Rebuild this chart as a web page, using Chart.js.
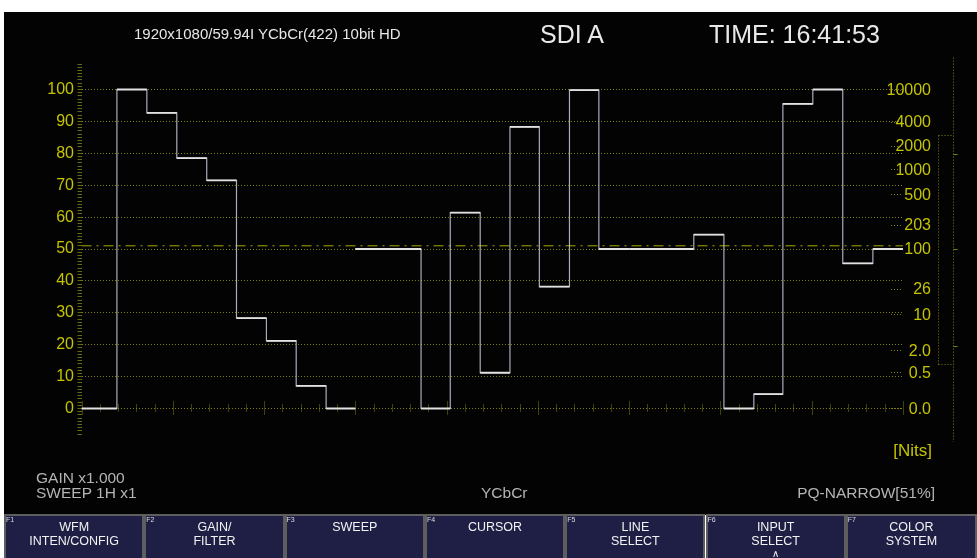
<!DOCTYPE html>
<html>
<head>
<meta charset="utf-8">
<title>WFM YCbCr</title>
<script src="https://cdn.jsdelivr.net/npm/chart.js@4.4.1/dist/chart.umd.min.js"></script>
<style>
  body { margin: 0; background: #fff; width: 977px; height: 558px; overflow: hidden; position: relative;
         font-family: "Liberation Sans", Arial, sans-serif; }
  #screen { position: absolute; left: 4px; top: 12px; right: 0; height: 503px; background: #030303; }
  #wrap { position: absolute; left: 0; top: 0; width: 977px; height: 515px; }
  .txt { position: absolute; white-space: nowrap; line-height: 1; }
  .head { color: #e8e8e8; }
  .stat { color: #b4b4b4; font-size: 15.5px; }
  .btn { position: absolute; top: 514px; height: 50px; box-sizing: border-box; border: 2px solid #5e5e5e;
         border-bottom: none; background: #1f1f46; color: #f2f2f2; text-align: center; font-size: 12.5px; }
  .btn .fk { position: absolute; left: 0; top: 0; font-size: 7px; line-height: 1; color: #ddd; }
  .btn .l1, .btn .l2, .btn .l3 { position: absolute; left: 0; right: 0; line-height: 1; }
  .btn .l1 { top: 5px; }
  .btn .l2 { top: 18.5px; }
  .btn .l3 { top: 33px; font-size: 10px; }
</style>
</head>
<body>
<div id="screen"></div>
<div id="wrap"><canvas id="wfm"></canvas></div>

<!-- top status line -->
<div class="txt head" style="left:134px; top:26px; font-size:15px;">1920x1080/59.94I YCbCr(422) 10bit HD</div>
<div class="txt head" style="left:540px; top:22px; font-size:25px;">SDI A</div>
<div class="txt head" style="left:709px; top:22px; font-size:25px;">TIME: 16:41:53</div>

<!-- bottom status -->
<div class="txt stat" style="left:36px; top:470px;">GAIN x1.000</div>
<div class="txt stat" style="left:36px; top:485px;">SWEEP 1H x1</div>
<div class="txt stat" style="left:481px; top:485px;">YCbCr</div>
<div class="txt stat" style="right:42px; top:485px;">PQ-NARROW[51%]</div>
<div class="txt" style="right:45px; top:442px; font-size:17px; color:#c4c400;">[Nits]</div>

<!-- function keys -->
<div class="btn" style="left:4px; width:140.3px;"><span class="fk">F1</span><span class="l1">WFM</span><span class="l2">INTEN/CONFIG</span></div>
<div class="btn" style="left:144.3px; width:140.3px;"><span class="fk">F2</span><span class="l1">GAIN/</span><span class="l2">FILTER</span></div>
<div class="btn" style="left:284.6px; width:140.3px;"><span class="fk">F3</span><span class="l1">SWEEP</span></div>
<div class="btn" style="left:424.9px; width:140.3px;"><span class="fk">F4</span><span class="l1">CURSOR</span></div>
<div class="btn" style="left:565.2px; width:140.3px;"><span class="fk">F5</span><span class="l1">LINE</span><span class="l2">SELECT</span></div>
<div class="btn" style="left:705.5px; width:140.3px;"><span class="fk">F6</span><span class="l1">INPUT</span><span class="l2">SELECT</span><span class="l3">&#8743;</span></div>
<div class="btn" style="left:845.8px; width:131.2px;"><span class="fk">F7</span><span class="l1">COLOR</span><span class="l2">SYSTEM</span></div>

<script>
// horizontal sweep, 0..45 graticule divisions (Y | Cb | Cr parade)
const SWEEP_MAX = 45;

// Y : colour bars luma
const Y_EDGES = [0, 1.94, 3.58, 5.22, 6.86, 8.49, 10.13, 11.76, 13.40, 15];
const Y_LEVELS = [0, 100, 92.7, 78.5, 71.5, 28.3, 21.2, 7.1, 0];

// Cb
const CB_EDGES = [15, 18.60, 20.20, 21.84, 23.47, 25.08, 26.73, 28.34, 30];
const CB_LEVELS = [50, 0, 61.4, 11.2, 88.3, 38.2, 99.8, 50];

// Cr
const CR_EDGES = [30, 33.54, 35.19, 36.83, 38.42, 40.06, 41.70, 43.35, 45];
const CR_LEVELS = [50, 54.5, 0, 4.5, 95.5, 100, 45.5, 50];

// PQ reference level (dash-dot)
const REF_LEVEL = 51;

// left scale (%) and right scale (nits)
const PCT_TICKS = [0, 10, 20, 30, 40, 50, 60, 70, 80, 90, 100];
const NITS_LABELS = ['10000', '4000', '2000', '1000', '500', '203', '100', '26', '10', '2.0', '0.5', '0.0'];
const NITS_LEVELS = [100, 89.9, 82.3, 75.0, 67.2, 57.5, 50.1, 37.6, 29.5, 18.3, 11.3, 0];

// range gauge at the far right
const GAUGE_SPAN = [-10.5, 110];
const GAUGE_BOX = [13.9, 85.7];
const GAUGE_MARKS = [19.6, 50, 79.8];

const YELLOW = '#c4c400';
const GRID = 'rgba(150, 150, 20, 0.85)';
const FONT = '"Liberation Sans", Arial, sans-serif';

function stepPoints(edges, levels) {
  const pts = levels.map((v, i) => ({ x: edges[i], y: v }));
  pts.push({ x: edges[edges.length - 1], y: levels[levels.length - 1] });
  return pts;
}

// only the flat parts, split with gaps
function flatPoints(edges, levels) {
  const pts = [];
  levels.forEach((v, i) => {
    pts.push({ x: edges[i], y: v }, { x: edges[i + 1], y: v }, { x: edges[i + 1], y: null });
  });
  return pts;
}

function isMajor(v) {
  return PCT_TICKS.includes(v);
}

const traces = [[Y_EDGES, Y_LEVELS], [CB_EDGES, CB_LEVELS], [CR_EDGES, CR_LEVELS]];
const datasets = [];
traces.forEach(([e, l]) => {
  datasets.push({ data: stepPoints(e, l), stepped: true, borderColor: 'rgba(200, 202, 220, 0.85)', borderWidth: 1.2, order: 2 });
  datasets.push({ data: flatPoints(e, l), borderColor: '#e2e2e2', borderWidth: 1.8, spanGaps: false, order: 1 });
});
datasets.push({
  data: [{ x: 0, y: REF_LEVEL }, { x: SWEEP_MAX, y: REF_LEVEL }],
  borderColor: '#a8a800', borderWidth: 1, borderDash: [10, 5, 2, 5], order: 3,
});

function dotted(ctx, x1, y1, x2, y2) {
  ctx.beginPath();
  ctx.moveTo(x1, y1);
  ctx.lineTo(x2, y2);
  ctx.stroke();
}

const graticule = {
  id: 'graticule',
  beforeDatasetsDraw(chart) {
    const { ctx, chartArea: area, scales: { x, y } } = chart;
    ctx.save();
    ctx.strokeStyle = GRID;
    ctx.lineWidth = 1;

    // sweep ticks along the 0 line
    ctx.setLineDash([1, 1]);
    const y0 = Math.round(y.getPixelForValue(0)) + 0.5;
    for (let i = 0; i <= SWEEP_MAX; i++) {
      const px = Math.round(x.getPixelForValue(i)) + 0.5;
      const h = i % 5 === 0 ? 7 : 4;
      dotted(ctx, px, y0 - h, px, y0 + h);
    }

    // short leaders for the nits labels
    ctx.setLineDash([1, 2]);
    NITS_LEVELS.forEach((v) => {
      const py = Math.round(y.getPixelForValue(v)) + 0.5;
      dotted(ctx, area.right - 12, py, area.right, py);
    });

    // gauge
    const gx = area.right + 50.5;
    const bx = area.right + 35.5;
    dotted(ctx, gx, y.getPixelForValue(GAUGE_SPAN[1]), gx, y.getPixelForValue(GAUGE_SPAN[0]));
    const top = Math.round(y.getPixelForValue(GAUGE_BOX[1])) + 0.5;
    const bot = Math.round(y.getPixelForValue(GAUGE_BOX[0])) + 0.5;
    dotted(ctx, bx, top, gx, top);
    dotted(ctx, bx, bot, gx, bot);
    dotted(ctx, bx, top, bx, bot);
    ctx.setLineDash([]);
    GAUGE_MARKS.forEach((v) => {
      const py = Math.round(y.getPixelForValue(v)) + 0.5;
      dotted(ctx, gx, py, gx + 4, py);
    });
    ctx.restore();
  },
  afterDraw(chart) {
    const { ctx, chartArea: area, scales: { y } } = chart;
    ctx.save();
    ctx.fillStyle = YELLOW;
    ctx.font = '16px ' + FONT;
    ctx.textAlign = 'right';
    ctx.textBaseline = 'middle';
    NITS_LABELS.forEach((t, i) => {
      ctx.fillText(t, area.right + 28, y.getPixelForValue(NITS_LEVELS[i]) + 1);
    });
    ctx.restore();
  },
};

new Chart(document.getElementById('wfm'), {
  type: 'line',
  data: { datasets },
  plugins: [graticule],
  options: {
    responsive: true,
    maintainAspectRatio: false,
    animation: false,
    devicePixelRatio: 1,
    layout: { padding: { top: 64, bottom: 81, left: 0, right: 74 } },
    elements: { point: { radius: 0 }, line: { tension: 0 } },
    plugins: { legend: { display: false }, tooltip: { enabled: false } },
    scales: {
      x: { type: 'linear', min: 0, max: SWEEP_MAX, display: false },
      y: {
        type: 'linear',
        min: -8,
        max: 108,
        afterBuildTicks: (s) => {
          const t = [];
          for (let v = -8; v <= 108; v++) t.push({ value: v });
          s.ticks = t;
        },
        afterFit: (s) => { s.width = 81.5; },
        border: { display: false, dash: [1, 2] },
        grid: {
          color: (c) => (c.tick && isMajor(c.tick.value) ? GRID : 'transparent'),
          tickColor: 'rgba(150, 150, 20, 0.7)',
          tickLength: 4,
          tickBorderDash: [],
        },
        ticks: {
          autoSkip: false,
          padding: 3.5,
          color: YELLOW,
          font: { family: FONT, size: 16 },
          callback: (v) => (isMajor(v) ? String(v) : ''),
        },
      },
    },
  },
});
</script>
</body>
</html>
